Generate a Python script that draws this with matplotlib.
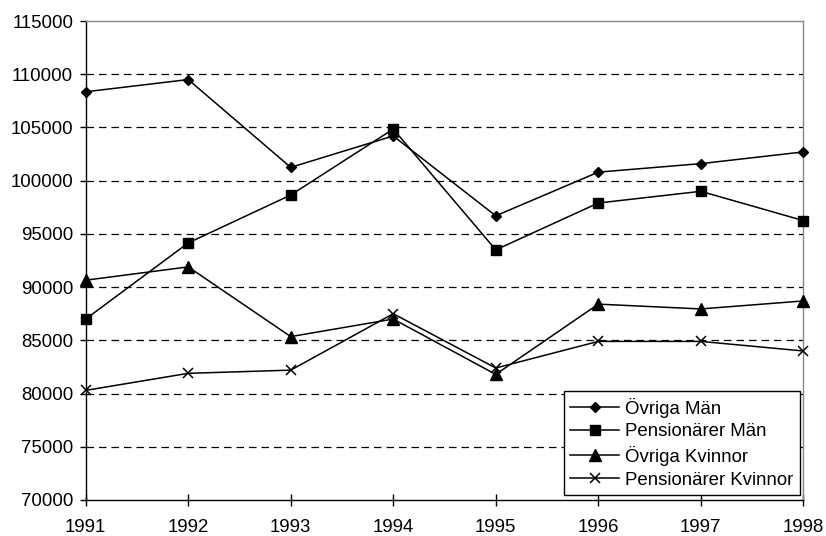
import matplotlib
matplotlib.use("Agg")
import matplotlib.pyplot as plt

years = [1991, 1992, 1993, 1994, 1995, 1996, 1997, 1998]
ovriga_man = [108350, 109500, 101250, 104200, 96700, 100800, 101600, 102700]
pension_man = [87000, 94150, 98650, 104850, 93500, 97900, 99000, 96250]
ovriga_kvinnor = [90650, 91900, 85350, 87000, 81800, 88400, 87950, 88700]
pension_kvinnor = [80300, 81900, 82200, 87500, 82400, 84900, 84900, 84000]
labels = ["Övriga Män", "Pensionärer Män", "Övriga Kvinnor", "Pensionärer Kvinnor"]
yticks = list(range(70000, 115001, 5000))

plt.rcParams['font.family'] = ['Liberation Sans', 'DejaVu Sans']
FS = 13.4

fig = plt.figure(figsize=(8.26, 5.36), dpi=100)
W, H = 826, 536
left, right, top, bottom = 85.7, 803.3, 21, 500
ax = fig.add_axes([left / W, 1 - bottom / H, (right - left) / W, (bottom - top) / H])

ax.plot(years, ovriga_man, color='black', lw=1.1, marker='D', ms=5.5, label=labels[0], clip_on=False, zorder=3)
ax.plot(years, pension_man, color='black', lw=1.1, marker='s', ms=7.5, label=labels[1], clip_on=False, zorder=3)
ax.plot(years, ovriga_kvinnor, color='black', lw=1.1, marker='^', ms=8, label=labels[2], clip_on=False, zorder=3)
ax.plot(years, pension_kvinnor, color='black', lw=1.1, marker='x', ms=7.5, mew=1.1, label=labels[3], clip_on=False, zorder=3)

ax.set_xlim(years[0], years[-1])
ax.set_ylim(yticks[0], yticks[-1])
ax.set_xticks(years)
ax.set_yticks(yticks)
ax.tick_params(axis='y', direction='out', length=4, width=1, pad=5, labelsize=FS, color='black')
ax.tick_params(axis='x', direction='inout', length=8, width=1, pad=10, labelsize=FS, color='black')

for y in yticks[1:-1]:
    ax.axhline(y, color='black', lw=0.9, dashes=(6, 4), zorder=1)

for s in ['left', 'bottom']:
    ax.spines[s].set_color('black')
    ax.spines[s].set_linewidth(1)
for s in ['top', 'right']:
    ax.spines[s].set_color('#888888')
    ax.spines[s].set_linewidth(1)

leg = ax.legend(loc='lower right', bbox_to_anchor=(0.9954, 0.0104), fontsize=FS,
                frameon=True, fancybox=False, framealpha=1, edgecolor='black',
                borderaxespad=0, borderpad=0.35, handlelength=2.6, handletextpad=0.35,
                labelspacing=0.3)
leg.get_frame().set_linewidth(1)
leg.set_zorder(5)

fig.savefig("out.png", dpi=100)
